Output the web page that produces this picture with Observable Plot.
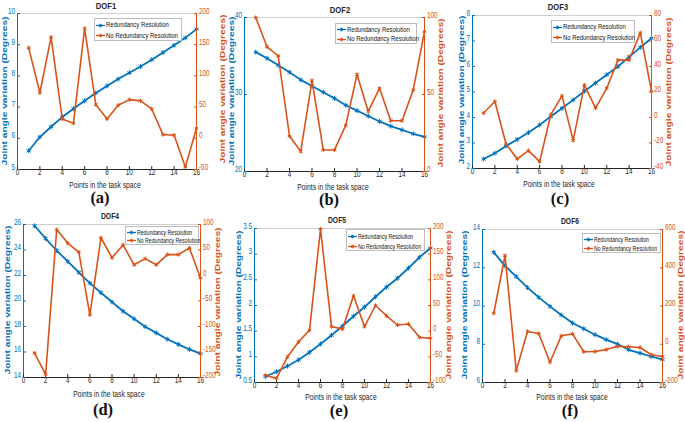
<!DOCTYPE html>
<html><head><meta charset="utf-8">
<script src="https://cdn.jsdelivr.net/npm/d3@7"></script>
<script src="https://cdn.jsdelivr.net/npm/@observablehq/plot@0.6"></script>
<style>
html,body{margin:0;padding:0;background:#fff;}
#root{position:relative;width:685px;height:422px;overflow:hidden;font-family:"Liberation Sans",Arial,sans-serif;}
.abs{position:absolute;white-space:nowrap;line-height:1;}
.title{font-weight:bold;transform:translate(-50%,-50%) scaleX(0.8);color:#262626;}
.cap{font-family:"Liberation Serif","Times New Roman",serif;font-weight:bold;font-size:16.5px;transform:translate(-50%,-50%);color:#111;}
.ylab{font-weight:bold;font-size:10.2px;transform:translate(-50%,-50%) rotate(-90deg) scaleY(0.78);}
.xlab{font-size:9px;transform:translate(-50%,-50%) scaleX(0.75);color:#262626;}
.legend{border:1px solid #bdbdbd;background:#fff;box-sizing:border-box;color:#111;}
.row{display:flex;align-items:center;}
.row svg{margin:0 1px 0 1px;flex:none;}
.row span{display:inline-block;transform:scaleX(0.74);transform-origin:0 50%;}
.panel{position:absolute;}
</style>
</head><body><div id="root"></div>
<script>
const BLUE = "#0072BD", ORANGE = "#D95319";
const points = [1,2,3,4,5,6,7,8,9,10,11,12,13,14,15,16];
const xTicks = [0,2,4,6,8,10,12,14,16];
const xDomain = [0,16];

// DOF1
const dof1Red   = [5.6,6.04,6.37,6.68,6.95,7.2,7.45,7.68,7.9,8.1,8.3,8.52,8.75,8.98,9.22,9.5];
const dof1NoRed = [145,73,162,31,24,176,54,31,53,62,60,47,6,5,-46,16];
const dof1LeftTicks = [5,6,7,8,9,10];
const dof1RightTicks = [-50,0,50,100,150,200];
// DOF2
const dof2Red   = [35.5,34.7,33.8,32.9,31.9,31.1,30.3,29.5,28.6,27.9,27.2,26.5,25.9,25.4,24.9,24.5];
const dof2NoRed = [100,81,75,23,13,59,14,14,30,63,39,54,33,33,53,91];
const dof2LeftTicks = [20,30,40];
const dof2RightTicks = [0,50,100];
// DOF3
const dof3Red   = [2.37,2.6,2.88,3.14,3.41,3.71,4.04,4.36,4.69,5.03,5.35,5.68,6.0,6.38,6.75,7.11];
const dof3NoRed = [3.5,12.6,-20.8,-32.5,-26,-34.6,2.2,17,-18,25.4,7.4,23,45,45,66.4,20.5];
const dof3LeftTicks = [2,3,4,5,6,7,8];
const dof3RightTicks = [-40,-20,0,20,40,60,80];
// DOF4
const dof4Red   = [25.9,24.9,23.96,23.1,22.24,21.4,20.65,19.92,19.2,18.6,17.98,17.5,17.0,16.6,16.2,15.87];
const dof4NoRed = [-152,-194,90,63.5,46,-77,74,35,60,21,33,21,41,41,54,-5];
const dof4LeftTicks = [14,16,18,20,22,24,26];
const dof4RightTicks = [-200,-150,-100,-50,0,50,100];
// DOF5
const dof5Red   = [0.617,0.71,0.82,0.94,1.09,1.25,1.42,1.6,1.79,1.97,2.17,2.36,2.53,2.73,2.94,3.12];
const dof5NoRed = [-86,-92,-50,-21,2,199,9,4,69,9,50,30,12,14,-12,-14];
const dof5LeftTicks = [0.5,1,1.5,2,2.5,3,3.5];
const dof5RightTicks = [-100,-50,0,50,100,150,200];
// DOF6
const dof6Red   = [12.81,12.1,11.54,10.96,10.45,9.98,9.53,9.11,8.81,8.5,8.24,8.01,7.71,7.54,7.36,7.2];
const dof6NoRed = [162,464,-138,67,56,-94,44,54,-39,-38,-28,-11,-13,-17,-55,-64];
const dof6LeftTicks = [6,8,10,12,14];
const dof6RightTicks = [-200,0,200,400,600];

const titles = ["DOF1","DOF2","DOF3","DOF4","DOF5","DOF6"];
const captions = ["(a)","(b)","(c)","(d)","(e)","(f)"];
const legendLabels = ["Redundancy Resolution","No Redundancy Resolution"];
const xLabel = "Points in the task space";
const yLabel = "Joint angle variation (Degrees)";

const series = [
  [dof1Red, dof1NoRed, dof1LeftTicks, dof1RightTicks],
  [dof2Red, dof2NoRed, dof2LeftTicks, dof2RightTicks],
  [dof3Red, dof3NoRed, dof3LeftTicks, dof3RightTicks],
  [dof4Red, dof4NoRed, dof4LeftTicks, dof4RightTicks],
  [dof5Red, dof5NoRed, dof5LeftTicks, dof5RightTicks],
  [dof6Red, dof6NoRed, dof6LeftTicks, dof6RightTicks]
];

// layout (page pixels)
const layout = [
  {L:17,R:196,T:13,B:169, title:[106,5.5,9.5], cap:[100,198], xl:[105,185], yl:[5,91], yr:[223,89], leg:[94,18,88,23,8]},
  {L:244,R:424,T:17,B:171, title:[340,9.5,9.5], cap:[329,200], xl:[333,187], yl:[232,91], yr:[441,93], leg:[335,23,82,21,8]},
  {L:472,R:651,T:15,B:168, title:[558,7,9.5], cap:[560,199], xl:[559,184], yl:[462,90], yr:[669,92], leg:[551,20,84,23,8]},
  {L:23,R:200,T:224,B:377, title:[110,216,8.5], cap:[103,409.5], xl:[109,393.5], yl:[8,300], yr:[218,302], leg:[125,226,74,19,7]},
  {L:254,R:430,T:228,B:382, title:[337,220,8.5], cap:[339,410.5], xl:[341,397], yl:[239,305], yr:[449,305], leg:[346,229,79,22,7]},
  {L:482,R:662,T:229,B:382, title:[570,221,8.5], cap:[570,410.5], xl:[572,397], yl:[465,305], yr:[681,305], leg:[582,233,79,20,7]}
];

const root = document.getElementById("root");
function addDiv(cls, x, y, text, style) {
  const d = document.createElement("div");
  d.className = "abs " + cls;
  d.style.left = x + "px"; d.style.top = y + "px";
  if (style) Object.assign(d.style, style);
  d.textContent = text;
  root.appendChild(d);
  return d;
}
function sample(color) {
  return `<svg width="9" height="7" viewBox="0 0 9 7"><line x1="0" y1="3.5" x2="9" y2="3.5" stroke="${color}" stroke-width="1.3"/>` +
    `<path d="M4.5 1.5V5.5M2.5 3.5H6.5M3.1 2.1L5.9 4.9M5.9 2.1L3.1 4.9" stroke="${color}" stroke-width="0.8"/></svg>`;
}
// horizontally condense tick labels (the reference is typeset narrow)
function squeeze(svg, s) {
  svg.querySelectorAll("text").forEach(t => {
    const x = +t.getAttribute("x") || 0, y = +t.getAttribute("y") || 0;
    const tr = t.getAttribute("transform") || "";
    t.removeAttribute("x"); t.removeAttribute("y");
    t.setAttribute("transform", `${tr} translate(${x},${y}) scale(${s},1)`);
  });
}

const fmt = d => String(d);

layout.forEach((p, i) => {
  const [red, noRed, lt, rt] = series[i];
  const leftDomain = [lt[0], lt[lt.length-1]];
  const rightDomain = [rt[0], rt[rt.length-1]];
  const ml = 40, mr = 40, mt = 16, mb = 30;
  const W = ml + (p.R - p.L) + mr, H = mt + (p.B - p.T) + mb;
  const box = document.createElement("div");
  box.className = "panel";
  box.style.left = (p.L - ml) + "px"; box.style.top = (p.T - mt) + "px";
  box.style.width = W + "px"; box.style.height = H + "px";
  root.appendChild(box);
  const dRed = points.map((x, k) => ({x, y: red[k]}));
  const dNo = points.map((x, k) => ({x, y: noRed[k]}));
  const common = {width: W, height: H, marginLeft: ml, marginRight: mr, marginTop: mt, marginBottom: mb,
    style: {background: "transparent", overflow: "visible", fontFamily: `"Liberation Sans",Arial,sans-serif`, fontSize: "8.5px", maxWidth: "none",
            position: "absolute", left: "0px", top: "0px"}};
  const left = Plot.plot({...common,
    x: {domain: xDomain},
    y: {domain: leftDomain},
    marks: [
      Plot.ruleY([leftDomain[1]], {stroke: "#cfcfcf", strokeWidth: 1}),
      Plot.ruleY([leftDomain[0]], {stroke: "#262626", strokeWidth: 1}),
      Plot.ruleX([xDomain[0]], {stroke: BLUE, strokeWidth: 1}),
      Plot.axisX({ticks: xTicks, tickSize: -3, tickPadding: 8, color: "#262626", label: null, tickFormat: fmt}),
      Plot.axisY({anchor: "left", ticks: lt, tickSize: -3, tickPadding: 5.5, color: BLUE, label: null, tickFormat: fmt}),
      Plot.line(dRed, {x: "x", y: "y", stroke: BLUE, strokeWidth: 1.8}),
      Plot.dot(dRed, {x: "x", y: "y", symbol: "asterisk", r: 2.3, stroke: BLUE, strokeWidth: 1})
    ]});
  const right = Plot.plot({...common,
    x: {domain: xDomain, axis: null},
    y: {domain: rightDomain},
    marks: [
      Plot.ruleX([xDomain[1]], {stroke: ORANGE, strokeWidth: 1}),
      Plot.axisY({anchor: "right", ticks: rt, tickSize: -3, tickPadding: 5.5, color: ORANGE, label: null, tickFormat: fmt}),
      Plot.line(dNo, {x: "x", y: "y", stroke: ORANGE, strokeWidth: 1.6}),
      Plot.dot(dNo, {x: "x", y: "y", symbol: "asterisk", r: 2, stroke: ORANGE, strokeWidth: 1})
    ]});
  squeeze(left, 0.75); squeeze(right, 0.75);
  box.appendChild(left); box.appendChild(right);

  addDiv("title", p.title[0], p.title[1], titles[i], {fontSize: p.title[2] + "px"});
  addDiv("cap", p.cap[0], p.cap[1], captions[i]);
  addDiv("xlab", p.xl[0], p.xl[1], xLabel);
  addDiv("ylab", p.yl[0], p.yl[1], yLabel, {color: BLUE});
  addDiv("ylab", p.yr[0], p.yr[1], yLabel, {color: ORANGE});

  const [lx, ly, lw, lh, fs] = p.leg;
  const lg = document.createElement("div");
  lg.className = "abs legend";
  Object.assign(lg.style, {left: lx + "px", top: ly + "px", width: lw + "px", height: lh + "px", fontSize: fs + "px", paddingTop: "1px"});
  const rh = (lh - 2) / 2;
  lg.innerHTML = `<div class="row" style="height:${rh}px">${sample(BLUE)}<span>${legendLabels[0]}</span></div>` +
                 `<div class="row" style="height:${rh}px">${sample(ORANGE)}<span>${legendLabels[1]}</span></div>`;
  root.appendChild(lg);
});
</script>
</body></html>
